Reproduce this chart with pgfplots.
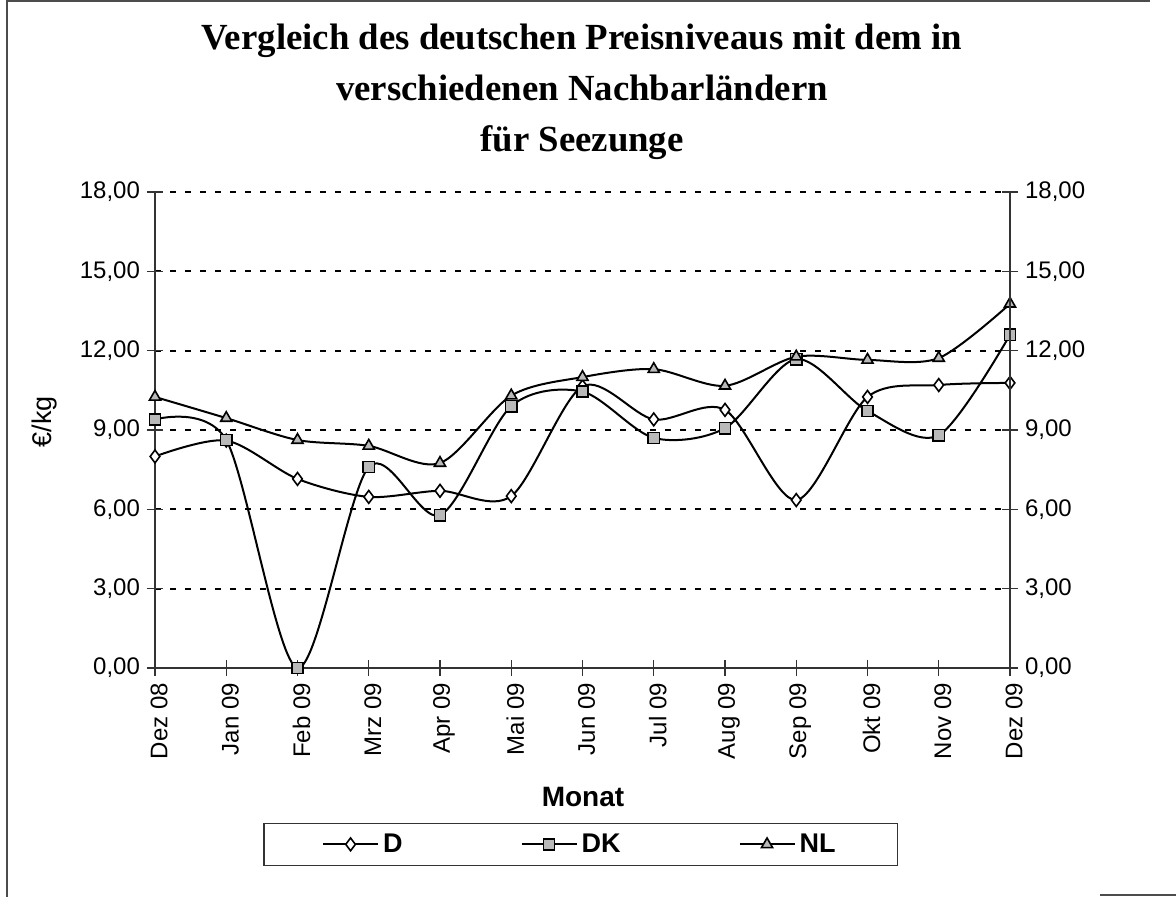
\documentclass[border=0pt]{standalone}
\usepackage{pgfplots}
\pgfplotsset{compat=1.18}
\usepackage{fontspec}
\setmainfont{Liberation Sans}
\newfontfamily\titlefont{Liberation Serif}
\begin{document}
\begin{tikzpicture}
\useasboundingbox (0,0) rectangle (588pt,448.5pt);
\draw[line width=0.6pt, black!70] (3.5pt,0) -- (3.5pt,448pt) -- (575pt,448pt);
\draw[line width=0.6pt, black!70] (550pt,1pt) -- (588pt,1pt);
\node[anchor=base, align=center, font=\titlefont\bfseries\fontsize{18.4}{25.5}\selectfont] at (291pt,372.5pt)
  {Vergleich des deutschen Preisniveaus mit dem in\\verschiedenen Nachbarländern\\für Seezunge};
\begin{axis}[
  at={(77.5pt,114.5pt)}, anchor=south west,
  width=427.5pt, height=238pt, scale only axis,
  xmin=0, xmax=12, ymin=0, ymax=18,
  axis x line*=bottom, axis y line*=left,
  axis line style={line width=0.6pt, black!80, -},
  xtick={0,...,12},
  xticklabels={Dez 08,Jan 09,Feb 09,Mrz 09,Apr 09,Mai 09,Jun 09,Jul 09,Aug 09,Sep 09,Okt 09,Nov 09,Dez 09},
  xticklabel style={rotate=90, anchor=east, font=\fontsize{12}{14}\selectfont},
  x tick label style={yshift=-2pt},
  ytick={0,3,...,18},
  yticklabel style={font=\fontsize{12}{14}\selectfont},
  /pgf/number format/.cd, fixed, fixed zerofill, precision=2, use comma, assume math mode=true,
  /pgfplots/.cd,
  xtick style={line width=0.6pt, black!80},
  ytick style={line width=0.6pt, black!80},
  major tick length=8pt,
  tick align=center,
  ymajorgrids,
  major grid style={line width=1pt, black, dash pattern=on 3pt off 4.5pt},
  xlabel={\bfseries Monat},
  xlabel style={at={(axis description cs:0.5006,-0.271)}, anchor=center, font=\fontsize{14}{16}\selectfont},
  ylabel={€/kg},
  ylabel style={at={(axis description cs:-0.1287,0.517)}, anchor=center, font=\fontsize{13.5}{16}\selectfont},
  clip=false,
  legend style={at={(axis description cs:0.498,-0.3256)}, anchor=north, legend columns=3,
    draw=black!80, line width=0.6pt, inner xsep=29pt, inner ysep=3pt,
    font=\bfseries\fontsize{13.5}{16}\selectfont,
    /tikz/every even column/.append style={column sep=57pt}},
  legend image code/.code={\draw[#1, line width=1pt] (0pt,0pt) -- (27.5pt,0pt); \draw[#1, mark repeat=1] plot coordinates {(13.75pt,0pt)};},
  every axis plot/.append style={line width=1pt, black, smooth, tension=0.5},
]
\addplot[mark=diamond*, mark options={fill=white, line width=0.8pt, scale=1.6}] coordinates {
(0,8.0) (1,8.6) (2,7.15) (3,6.47) (4,6.7) (5,6.5) (6,10.65) (7,9.4) (8,9.76) (9,6.35) (10,10.25) (11,10.7) (12,10.78)};
\addlegendentry{D}
\addplot[mark=square*, mark options={fill=gray!55, line width=0.8pt, scale=1.4}] coordinates {
(0,9.4) (1,8.62) (2,0) (3,7.6) (4,5.78) (5,9.9) (6,10.45) (7,8.7) (8,9.07) (9,11.68) (10,9.72) (11,8.8) (12,12.6)};
\addlegendentry{DK}
\addplot[mark=triangle*, mark options={fill=gray!55, line width=0.8pt, scale=1.6}] coordinates {
(0,10.25) (1,9.45) (2,8.62) (3,8.4) (4,7.75) (5,10.3) (6,11.0) (7,11.3) (8,10.67) (9,11.77) (10,11.65) (11,11.72) (12,13.77)};
\addlegendentry{NL}
\end{axis}
\begin{axis}[
  at={(77.5pt,114.5pt)}, anchor=south west,
  width=427.5pt, height=238pt, scale only axis,
  xmin=0, xmax=12, ymin=0, ymax=18,
  axis x line=none, axis y line*=right,
  axis line style={line width=0.6pt, black!80, -},
  ytick={0,3,...,18},
  yticklabel style={font=\fontsize{12}{14}\selectfont},
  /pgf/number format/.cd, fixed, fixed zerofill, precision=2, use comma, assume math mode=true,
  /pgfplots/.cd,
  ytick style={line width=0.6pt, black!80},
  tick align=center,
  major tick length=8pt,
]
\addplot[draw=none] coordinates {(0,0)};
\end{axis}
\end{tikzpicture}
\end{document}
